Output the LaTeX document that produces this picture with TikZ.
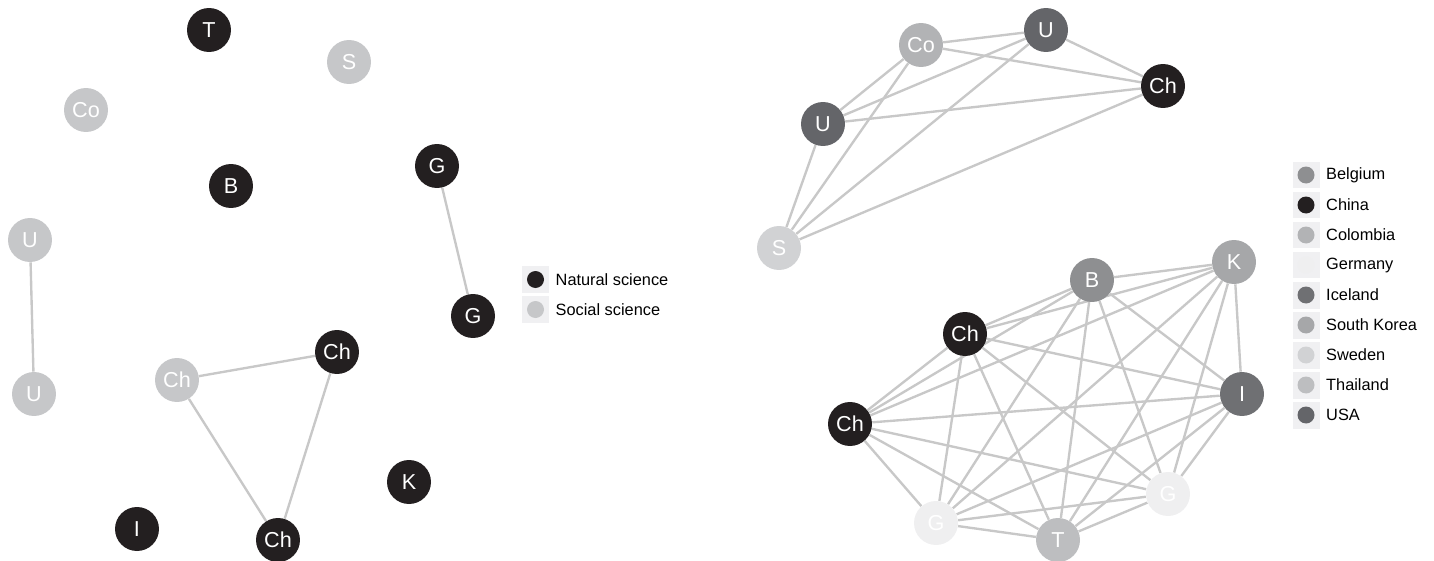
\documentclass[tikz,border=0pt]{standalone}
\usepackage{fontspec}
\setmainfont{Liberation Sans}
\usetikzlibrary{positioning,backgrounds}

\definecolor{natural}{HTML}{231F20}
\definecolor{social}{HTML}{C6C7C9}
\definecolor{belgium}{HTML}{8E8F91}
\definecolor{china}{HTML}{231F20}
\definecolor{colombia}{HTML}{B2B3B5}
\definecolor{germany}{HTML}{EFEFF0}
\definecolor{iceland}{HTML}{6F7073}
\definecolor{korea}{HTML}{A6A7A9}
\definecolor{sweden}{HTML}{D1D2D4}
\definecolor{thailand}{HTML}{BDBEC0}
\definecolor{usa}{HTML}{646569}
\definecolor{edgegrey}{HTML}{C8C8C8}
\definecolor{keybg}{HTML}{F0F0F2}

\tikzset{
    member/.style={circle, fill=#1, text=white, minimum size=0.88cm, inner sep=0pt,
                   font=\fontsize{12.3}{13}\selectfont},
    tie/.style={draw=edgegrey, line width=1.35pt},
    keybox/.style={fill=keybg, minimum size=0.54cm, inner sep=0pt},
    keydot/.style={circle, fill=#1, minimum size=0.34cm, inner sep=0pt},
    keytext/.style={inner sep=0pt, anchor=west, font=\fontsize{9.3}{10}\selectfont}
}

\begin{document}
\begin{tikzpicture}[x=0.02cm, y=-0.02cm]
    \useasboundingbox (0,0) rectangle (1434,561);

    % Left network: coloured by field
    \node[member=natural] (lT)   at (209,30)  {T};
    \node[member=social]  (lS)   at (349,62)  {S};
    \node[member=social]  (lCo)  at (86,110)  {Co};
    \node[member=natural] (lB)   at (231,186) {B};
    \node[member=natural] (lGa)  at (437,166) {G};
    \node[member=natural] (lGb)  at (473,316) {G};
    \node[member=social]  (lUa)  at (30,240)  {U};
    \node[member=social]  (lUb)  at (34,394)  {U};
    \node[member=social]  (lChA) at (177,380) {Ch};
    \node[member=natural] (lChB) at (337,352) {Ch};
    \node[member=natural] (lChC) at (278,540) {Ch};
    \node[member=natural] (lK)   at (409,482) {K};
    \node[member=natural] (lI)   at (137,529) {I};

    \begin{pgfonlayer}{background}
        \draw[tie] (lGa) -- (lGb);
        \draw[tie] (lUa) -- (lUb);
        \draw[tie] (lChA) -- (lChB) -- (lChC) -- (lChA);
    \end{pgfonlayer}

    % Field key
    \node[keybox] (kNat) at (535.5,279.5) {};
    \node[keydot=natural] at (kNat) {};
    \node[keytext, right=0.12cm of kNat] {Natural science};
    \node[keybox] (kSoc) at (535.5,309.5) {};
    \node[keydot=social] at (kSoc) {};
    \node[keytext, right=0.12cm of kSoc] {Social science};

    % Right network: coloured by country
    \node[member=colombia] (rCo)  at (921,45)   {Co};
    \node[member=usa]      (rUa)  at (1046,30)  {U};
    \node[member=china]    (rCh)  at (1163,86)  {Ch};
    \node[member=usa]      (rUb)  at (823,124)  {U};
    \node[member=sweden]   (rS)   at (779,248)  {S};

    \node[member=belgium]  (rB)   at (1092,280) {B};
    \node[member=korea]    (rK)   at (1234,262) {K};
    \node[member=china]    (rChA) at (965,334)  {Ch};
    \node[member=iceland]  (rI)   at (1242,394) {I};
    \node[member=china]    (rChB) at (850,424)  {Ch};
    \node[member=germany]  (rGa)  at (1168,494) {G};
    \node[member=germany]  (rGb)  at (936,523)  {G};
    \node[member=thailand] (rT)   at (1058,540) {T};

    \begin{pgfonlayer}{background}
        \foreach \u [count=\i] in {rCo,rUa,rCh,rUb,rS}
            \foreach \v [count=\j] in {rCo,rUa,rCh,rUb,rS}
                {\ifnum\i<\j \draw[tie] (\u) -- (\v); \fi}
        \foreach \u [count=\i] in {rB,rK,rChA,rI,rChB,rGa,rGb,rT}
            \foreach \v [count=\j] in {rB,rK,rChA,rI,rChB,rGa,rGb,rT}
                {\ifnum\i<\j \draw[tie] (\u) -- (\v); \fi}
    \end{pgfonlayer}

    % Country key
    \foreach \label/\col [count=\i from 0] in {Belgium/belgium, China/china,
            Colombia/colombia, Germany/germany, Iceland/iceland,
            South Korea/korea, Sweden/sweden, Thailand/thailand, USA/usa} {
        \node[keybox] (key\i) at (1306,{175+30*\i}) {};
        \node[keydot=\col] at (key\i) {};
        \node[keytext, right=0.12cm of key\i] {\label};
    }

\end{tikzpicture}
\end{document}
